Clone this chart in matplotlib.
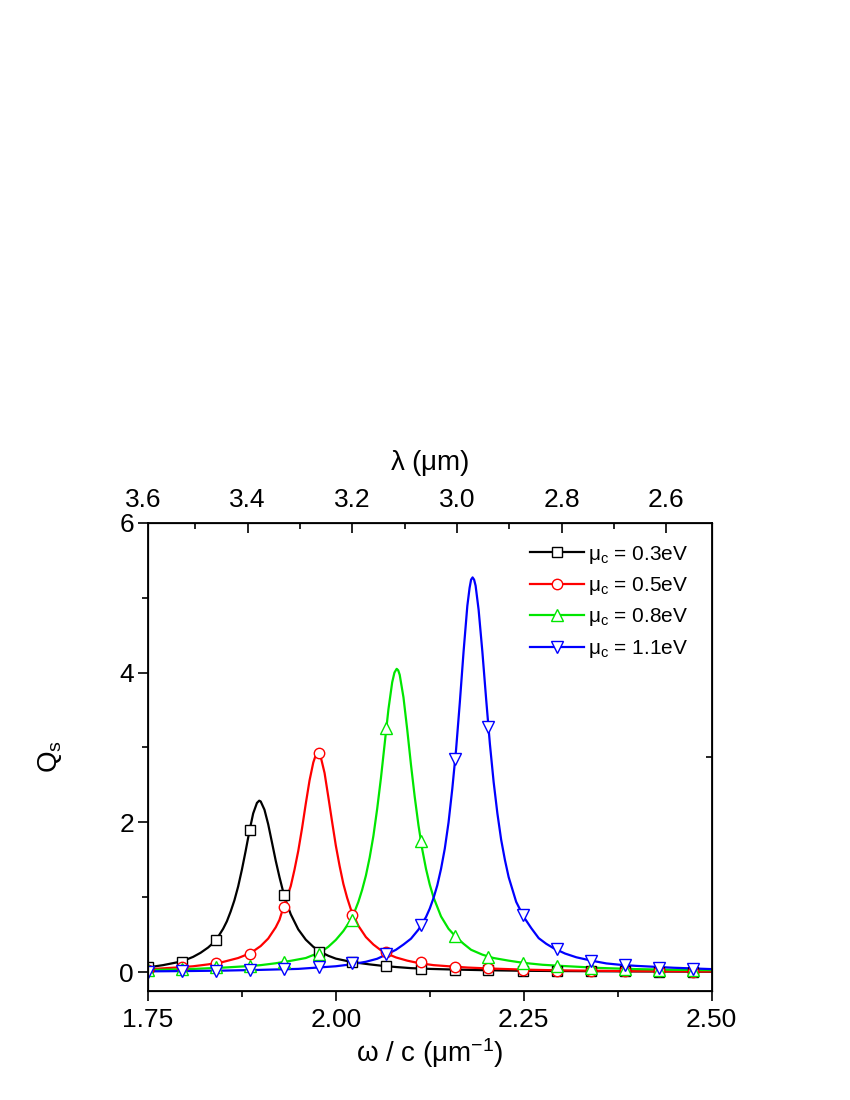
import numpy as np
import matplotlib
matplotlib.use("Agg")
import matplotlib.pyplot as plt
from matplotlib.transforms import blended_transform_factory

plt.rcParams['font.family'] = ['Liberation Sans', 'DejaVu Sans']
plt.rcParams['mathtext.fontset'] = 'custom'
plt.rcParams['mathtext.rm'] = 'Liberation Sans'
plt.rcParams['mathtext.it'] = 'Liberation Sans:italic'

# marker positions (same for every curve)
x_mark = [1.750, 1.795, 1.841, 1.886, 1.931, 1.977, 2.022, 2.067, 2.113,
          2.158, 2.203, 2.249, 2.294, 2.339, 2.385, 2.430, 2.475]

# mu_c = 0.3 eV
x_03 = [1.75, 1.77, 1.79, 1.80, 1.81, 1.82, 1.83, 1.84, 1.845, 1.85, 1.855, 1.86,
        1.865, 1.87, 1.875, 1.88, 1.885, 1.89, 1.895, 1.898, 1.90, 1.905, 1.91,
        1.915, 1.92, 1.925, 1.93, 1.935, 1.94, 1.95, 1.96, 1.97, 1.98, 1.99, 2.00,
        2.015, 2.03, 2.045, 2.06, 2.08, 2.10, 2.125, 2.15, 2.20, 2.25, 2.30, 2.40, 2.50]
y_03 = [0.065, 0.095, 0.135, 0.165, 0.205, 0.26, 0.33, 0.42, 0.50, 0.58, 0.68, 0.81,
        0.96, 1.145, 1.37, 1.62, 1.885, 2.12, 2.26, 2.29, 2.28, 2.17, 1.975,
        1.733, 1.489, 1.27, 1.071, 0.91, 0.774, 0.572, 0.435, 0.34, 0.27, 0.22, 0.182,
        0.15, 0.125, 0.105, 0.088, 0.07, 0.055, 0.045, 0.038, 0.027, 0.02, 0.016, 0.011, 0.008]
m_03 = [0.065, 0.14, 0.43, 1.90, 1.03, 0.275, 0.14, 0.084, 0.045, 0.032, 0.025,
        0.02, 0.016, 0.013, 0.011, 0.009, 0.008]

# mu_c = 0.5 eV
x_05 = [1.75, 1.77, 1.79, 1.81, 1.83, 1.85, 1.87, 1.88, 1.89, 1.90, 1.91, 1.92,
        1.925, 1.93, 1.935, 1.94, 1.945, 1.95, 1.955, 1.96, 1.965, 1.97, 1.973,
        1.976, 1.978, 1.98, 1.985, 1.99, 1.995, 2.00, 2.005, 2.01, 2.015, 2.02, 2.03,
        2.04, 2.05, 2.06, 2.07, 2.08, 2.095, 2.11, 2.13, 2.15, 2.175, 2.20, 2.25,
        2.30, 2.40, 2.50]
y_05 = [0.04, 0.052, 0.065, 0.08, 0.105, 0.138, 0.19, 0.23, 0.28, 0.35, 0.45, 0.60,
        0.70, 0.86, 1.0, 1.15, 1.37, 1.62, 1.92, 2.25, 2.56, 2.80, 2.89,
        2.93, 2.915, 2.87, 2.66, 2.34, 2.01, 1.69, 1.42, 1.18, 0.995, 0.84, 0.62,
        0.47, 0.37, 0.293, 0.24, 0.198, 0.155, 0.123, 0.095, 0.08, 0.063, 0.052, 0.035,
        0.025, 0.015, 0.01]
m_05 = [0.035, 0.067, 0.12, 0.25, 0.87, 2.93, 0.77, 0.275, 0.133, 0.075, 0.053,
        0.032, 0.022, 0.017, 0.014, 0.011, 0.01]

# mu_c = 0.8 eV
x_08 = [1.75, 1.80, 1.85, 1.88, 1.90, 1.92, 1.94, 1.96, 1.97, 1.98, 1.99, 2.00,
        2.01, 2.02, 2.025, 2.03, 2.035, 2.04, 2.045, 2.05, 2.055, 2.06, 2.065, 2.07,
        2.075, 2.078, 2.081, 2.083, 2.085, 2.09, 2.095, 2.10, 2.105, 2.11, 2.115,
        2.12, 2.125, 2.13, 2.14, 2.15, 2.16, 2.17, 2.18, 2.195, 2.21, 2.23, 2.25,
        2.275, 2.30, 2.35, 2.40, 2.45, 2.50]
y_08 = [0.029, 0.04, 0.062, 0.08, 0.095, 0.12, 0.153, 0.19, 0.23, 0.27, 0.34, 0.432,
        0.55, 0.70, 0.81, 0.94, 1.10, 1.29, 1.53, 1.82, 2.18, 2.59, 3.05, 3.51,
        3.87, 4.0, 4.05, 4.03, 3.97, 3.67, 3.24, 2.77, 2.34, 1.96, 1.64,
        1.38, 1.17, 1.0, 0.745, 0.58, 0.47, 0.38, 0.30, 0.235, 0.19, 0.155, 0.125,
        0.10, 0.085, 0.058, 0.042, 0.033, 0.028]
m_08 = [0.03, 0.04, 0.065, 0.084, 0.14, 0.25, 0.70, 3.26, 1.75, 0.48, 0.21, 0.13,
        0.09, 0.055, 0.045, 0.035, 0.03]

# mu_c = 1.1 eV
x_11 = [1.75, 1.80, 1.85, 1.90, 1.95, 2.00, 2.02, 2.04, 2.055, 2.07, 2.08, 2.09,
        2.10, 2.11, 2.12, 2.125, 2.13, 2.135, 2.14, 2.145, 2.15, 2.155, 2.16, 2.165,
        2.17, 2.175, 2.178, 2.180, 2.182, 2.184, 2.186, 2.19, 2.195, 2.20, 2.205,
        2.21, 2.215, 2.22, 2.225, 2.23, 2.24, 2.25, 2.26, 2.27, 2.28, 2.29, 2.305,
        2.32, 2.34, 2.36, 2.38, 2.40, 2.45, 2.50]
y_11 = [0.012, 0.016, 0.022, 0.032, 0.045, 0.08, 0.105, 0.14, 0.18, 0.25, 0.30, 0.37,
        0.448, 0.57, 0.737, 0.85, 0.99, 1.16, 1.38, 1.65, 2.0, 2.45, 2.97, 3.6,
        4.28, 4.89, 5.13, 5.24, 5.27, 5.24, 5.16, 4.84, 4.28, 3.65, 3.05,
        2.54, 2.12, 1.77, 1.5, 1.27, 0.94, 0.74, 0.59, 0.455, 0.38, 0.32, 0.25,
        0.20, 0.155, 0.118, 0.098, 0.085, 0.06, 0.042]
m_11 = [0.01, 0.013, 0.02, 0.03, 0.04, 0.075, 0.12, 0.245, 0.63, 2.84, 3.27, 0.76,
        0.31, 0.155, 0.097, 0.062, 0.04]

series = [
    (x_03, y_03, m_03, 'black', 's', 6.5, r'$\mathrm{\mu}_{\mathrm{c}}$ = 0.3eV'),
    (x_05, y_05, m_05, '#ff0000', 'o', 7.5, r'$\mathrm{\mu}_{\mathrm{c}}$ = 0.5eV'),
    (x_08, y_08, m_08, '#00e600', '^', 8, r'$\mathrm{\mu}_{\mathrm{c}}$ = 0.8eV'),
    (x_11, y_11, m_11, '#0000ff', 'v', 8, r'$\mathrm{\mu}_{\mathrm{c}}$ = 1.1eV'),
]

lam_major = [3.4, 3.2, 3.0, 2.8, 2.6]
lam_minor = [3.5, 3.3, 3.1, 2.9, 2.7]

fig = plt.figure(figsize=(8.5, 11), dpi=100)
ax = fig.add_axes([0.1741, 0.0991, 0.663, 0.4257])

for xs, ys, ms, col, mk, sz, lab in series:
    ax.plot(xs, ys, color=col, lw=1.6, zorder=2)
    ax.plot(x_mark, ms, ls='none', marker=mk, ms=sz, mfc='white', mec=col,
            mew=1.0, zorder=3)
    # legend proxy
    ax.plot([], [], color=col, lw=1.6, marker=mk, ms=sz, mfc='white', mec=col,
            mew=1.0, label=lab)

ax.set_xlim(1.75, 2.50)
ax.set_ylim(-0.25, 6)
ax.set_xticks([1.75, 2.00, 2.25, 2.50])
ax.set_xticklabels(['1.75', '2.00', '2.25', '2.50'])
ax.set_xticks([1.875, 2.125, 2.375], minor=True)
ax.set_yticks([0, 2, 4, 6])
ax.set_yticks([1, 3, 5], minor=True)
ax.tick_params(axis='both', which='major', direction='out', length=7, width=1.2,
               labelsize=19)
ax.tick_params(axis='x', which='major', pad=5)
ax.tick_params(axis='y', which='major', pad=3)
ax.tick_params(axis='both', which='minor', direction='out', length=4, width=1.2)
ax.tick_params(top=False, right=False, which='both')
for sp in ax.spines.values():
    sp.set_linewidth(1.3)

ax.set_xlabel(r'$\mathrm{\omega}$ / c ($\mathrm{\mu}$m$^{\mathrm{-1}}$)', fontsize=20,
              labelpad=3)
ax.set_ylabel(r'Q$_{\mathrm{s}}$', fontsize=20, labelpad=40)

# top wavelength axis (linear, as in the original)
axt = ax.twiny()
axt.set_xlim(2 * np.pi / 1.75, 2 * np.pi / 2.50)
axt.set_xticks(lam_major)
axt.set_xticklabels(['%.1f' % v for v in lam_major])
axt.set_xticks(lam_minor, minor=True)
axt.tick_params(axis='x', which='major', direction='in', length=7, width=1.2,
                labelsize=19, pad=8)
axt.tick_params(axis='x', which='minor', direction='in', length=4, width=1.2)
axt.set_xlabel(r'$\mathrm{\lambda}$ ($\mathrm{\mu}$m)', fontsize=20, labelpad=13)
tr = blended_transform_factory(axt.transData, axt.transAxes)
axt.annotate('3.6', xy=(3.6, 1.0), xycoords=tr, xytext=(0, 8),
             textcoords='offset points', ha='center', va='bottom', fontsize=19,
             annotation_clip=False)

# single tick on the right spine
axr = ax.twinx()
axr.set_ylim(ax.get_ylim())
axr.set_yticks([2.87])
axr.tick_params(axis='y', direction='in', length=4, width=1.2, labelright=False)

leg = ax.legend(loc='upper right', bbox_to_anchor=(0.974, 0.973), borderaxespad=0,
                frameon=False, fontsize=15, handlelength=2.6, handletextpad=0.2,
                labelspacing=0.45)

fig.savefig('out.png', dpi=100)
